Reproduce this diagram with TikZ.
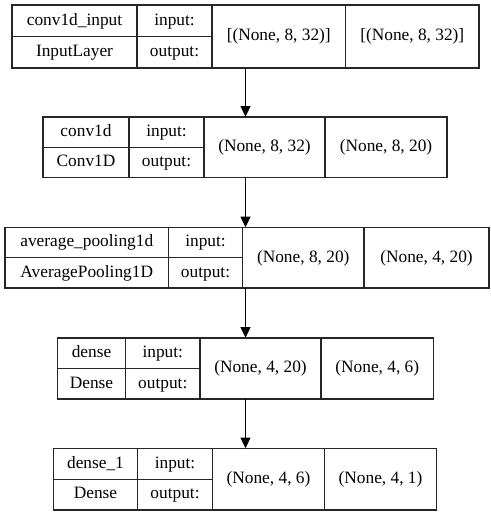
\documentclass[tikz,border=0pt]{standalone}
\usepackage{fontspec}
\setmainfont{Liberation Serif}
\usepackage{tikz}
\usetikzlibrary{arrows.meta,fit}

\tikzset{
  cell/.style={draw=black!85,line width=0.9pt,inner sep=0pt},
  lbl/.style={inner sep=0pt,text height=9pt,text depth=2.5pt,font=\fontsize{13}{15}\selectfont},
  whole/.style={inner sep=0pt},
  flow/.style={draw=black,line width=0.9pt,-{Triangle[length=8pt,width=7.5pt]}}
}

\begin{document}
\begin{tikzpicture}[x=0.75pt,y=-0.75pt]
    \useasboundingbox (0,0) rectangle (491,516);
    \foreach \i/\t/\b/\xa/\xb/\xc/\xd/\xe/\nm/\cl/\si/\so in {
      1/5/68/12/137/212/345.5/479/{conv1d\_input}/InputLayer/{[(None, 8, 32)]}/{[(None, 8, 32)]},
      2/117/177.5/43/129/204/325/447/conv1d/Conv1D/{(None, 8, 32)}/{(None, 8, 20)},
      3/227.5/288/5/168.5/242.5/364/489/{average\_pooling1d}/AveragePooling1D/{(None, 8, 20)}/{(None, 4, 20)},
      4/338/399/57.5/125.5/200/321/433.5/dense/Dense/{(None, 4, 20)}/{(None, 4, 6)},
      5/448.5/510/53.5/137.5/212.5/324.5/436.5/{dense\_1}/Dense/{(None, 4, 6)}/{(None, 4, 1)}} {
      \pgfmathsetmacro{\m}{(\t+\b)/2}
      \node[whole,fit={(\xa,\t) (\xe,\b)}] (L\i) {};
      \node[cell,fit={(\xa,\t) (\xb,\m)},label={[lbl]center:{\nm}}] (n\i) {};
      \node[cell,fit={(\xa,\m) (\xb,\b)},label={[lbl]center:{\cl}}] (c\i) {};
      \node[cell,fit={(\xb,\t) (\xc,\m)},label={[lbl]center:{input:}}] (in\i) {};
      \node[cell,fit={(\xb,\m) (\xc,\b)},label={[lbl]center:{output:}}] (out\i) {};
      \node[cell,fit={(\xc,\t) (\xd,\b)},label={[lbl]center:{\si}}] (si\i) {};
      \node[cell,fit={(\xd,\t) (\xe,\b)},label={[lbl]center:{\so}}] (so\i) {};
    }
    % layer to layer
    \foreach \i/\j in {1/2,2/3,3/4,4/5}
      \draw[flow] (L1.south |- L\i.south) -- (L1.south |- L\j.north);
\end{tikzpicture}
\end{document}
